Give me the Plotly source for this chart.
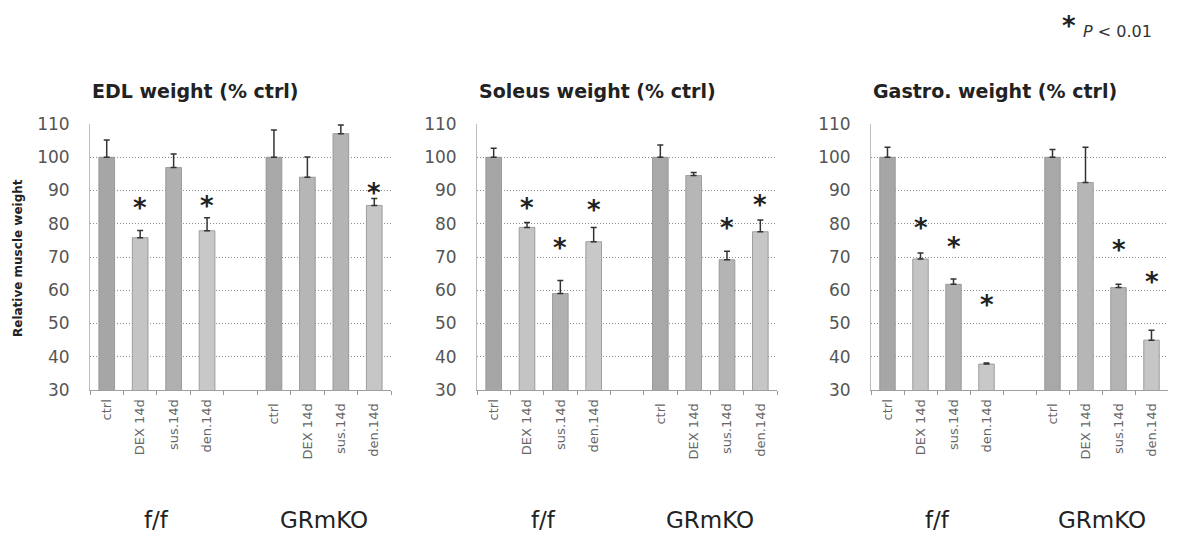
import plotly.graph_objects as go

categories = ["ctrl", "DEX 14d", "sus.14d", "den.14d", " ",
              "ctrl ", "DEX 14d ", "sus.14d ", "den.14d "]
groups = ["f/f", "GRmKO"]
titles = ["EDL weight (% ctrl)", "Soleus weight (% ctrl)", "Gastro. weight (% ctrl)"]

# values (None = empty gap slot)
edl_val = [100, 75.8, 96.9, 77.9, None, 100, 94.0, 107.1, 85.5]
edl_err = [5.2, 2.2, 4.1, 3.9, None, 8.2, 6.1, 2.6, 2.1]
edl_star = [None, 86.5, None, 87.2, None, None, None, None, 91.0]

sol_val = [100, 78.9, 59.0, 74.6, None, 100, 94.5, 69.2, 77.6]
sol_err = [2.7, 1.5, 3.9, 4.3, None, 3.7, 0.9, 2.5, 3.5]
sol_star = [None, 86.5, 74.6, 86.0, None, None, None, 80.6, 87.5]

gas_val = [100, 69.4, 61.8, 37.8, None, 100, 92.4, 60.8, 45.0]
gas_err = [3.0, 1.8, 1.6, 0.3, None, 2.3, 10.6, 1.0, 3.0]
gas_star = [None, 80.6, 74.8, 57.5, None, None, None, 73.8, 64.2]

panels = [(edl_val, edl_err, edl_star), (sol_val, sol_err, sol_star), (gas_val, gas_err, gas_star)]
bar_colors = ["#a6a6a6", "#c4c4c4", "#b0b0b0", "#c8c8c8", "#ffffff",
              "#a8a8a8", "#b6b6b6", "#b4b4b4", "#c6c6c6"]

W, H = 1179, 535
OFF = 8  # page body margin
domains = [(90, 391), (477, 777), (871, 1168)]
y_top, y_bot = 124, 390


def px(x):
    return (x - OFF) / W


def py(y):
    return 1 - (y - OFF) / H


FONT = "DejaVu Sans"
fig = go.Figure()
annotations = []

for i, ((vals, errs, stars), (x0, x1)) in enumerate(zip(panels, domains)):
    xa = "x" if i == 0 else f"x{i+1}"
    ya = "y" if i == 0 else f"y{i+1}"
    fig.add_trace(go.Bar(
        x=categories, y=vals, xaxis=xa, yaxis=ya,
        marker=dict(color=bar_colors, line=dict(color="#8e8e8e", width=0.8)),
        error_y=dict(type="data", symmetric=False, array=errs,
                     arrayminus=[0 if e is not None else None for e in errs],
                     color="#333333", thickness=1.5, width=3),
        showlegend=False,
    ))
    xkey = "xaxis" if i == 0 else f"xaxis{i+1}"
    ykey = "yaxis" if i == 0 else f"yaxis{i+1}"
    fig.layout[xkey] = dict(
        domain=[px(x0), px(x1)], anchor=ya, type="category",
        categoryorder="array", categoryarray=categories,
        tickson="boundaries", ticks="outside", ticklen=4, tickcolor="#999999",
        tickangle=-90, tickfont=dict(family=FONT, size=13, color="#666666"),
        ticklabelstandoff=3,
        showline=True, linecolor="#a0a0a0", linewidth=1, showgrid=False,
        automargin=False, fixedrange=True,
    )
    fig.layout[ykey] = dict(
        domain=[py(y_bot), py(y_top)], anchor=xa,
        range=[30, 110], tick0=30, dtick=10,
        showgrid=True, gridcolor="#8c8c8c", griddash="1px,2px", gridwidth=1,
        showline=True, linecolor="#bdbdbd", linewidth=1, zeroline=False,
        ticks="", tickfont=dict(family=FONT, size=17, color="#555555"),
        ticklabelstandoff=16, automargin=False,
    )
    # title
    annotations.append(dict(
        x=px(x0), y=py(91), xref="paper", yref="paper",
        xanchor="left", yanchor="middle", showarrow=False,
        text=f"<b>{titles[i]}</b>", font=dict(family=FONT, size=19, color="#222222")))
    # group labels
    for gx, g in zip([1.5, 6.5], groups):
        annotations.append(dict(
            x=gx, y=py(520), xref=xa, yref="paper",
            xanchor="center", yanchor="middle", showarrow=False,
            text=g, font=dict(family=FONT, size=23, color="#222222")))
    # significance stars
    for ci, s in enumerate(stars):
        if s is not None:
            annotations.append(dict(
                x=ci, y=s, xref=xa, yref=ya, xanchor="center", yanchor="middle",
                yshift=-6, showarrow=False, text="<b>*</b>",
                font=dict(family=FONT, size=26, color="#222222")))

# y-axis title
annotations.append(dict(
    x=px(18), y=py(258), xref="paper", yref="paper", textangle=-90,
    xanchor="center", yanchor="middle", showarrow=False,
    text="<b>Relative muscle weight</b>", font=dict(family=FONT, size=12, color="#222222")))
# legend note
annotations.append(dict(
    x=px(1069), y=py(20), xref="paper", yref="paper", xanchor="center", yanchor="middle",
    yshift=-6, showarrow=False, text="<b>*</b>", font=dict(family=FONT, size=26, color="#222222")))
annotations.append(dict(
    x=px(1081), y=py(32), xref="paper", yref="paper", xanchor="left", yanchor="middle",
    showarrow=False, text="<i>P</i> < 0.01", font=dict(family=FONT, size=16, color="#333333")))

fig.update_layout(
    width=W, height=H, margin=dict(l=0, r=0, t=0, b=0, autoexpand=False),
    paper_bgcolor="white", plot_bgcolor="white",
    bargap=0.53, annotations=annotations,
)

fig.write_html("out.html")
